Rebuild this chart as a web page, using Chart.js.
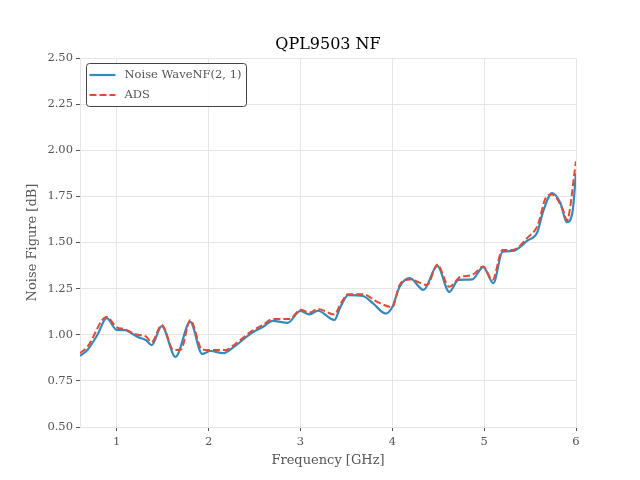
<!DOCTYPE html>
<html>
<head>
<meta charset="utf-8">
<script src="https://cdn.jsdelivr.net/npm/chart.js@4/dist/chart.umd.min.js"></script>
<style>
  html, body { margin: 0; padding: 0; background: #fff; }
  #wrap { width: 640px; height: 480px; }
</style>
</head>
<body>
<div id="wrap"><canvas id="nfChart" width="640" height="480"></canvas></div>
<script>
// values
const waveFreq = [0.60, 0.68, 0.79, 0.89, 1.00, 1.09, 1.17, 1.23, 1.32, 1.38, 1.49, 1.64, 1.80, 1.93, 2.02,
    2.16, 2.29, 2.47, 2.59, 2.70, 2.86, 3.00, 3.10, 3.19, 3.37, 3.43, 3.52, 3.68, 3.79, 3.93, 4.00,
    4.08, 4.19, 4.34, 4.49, 4.62, 4.72, 4.87, 4.99, 5.10, 5.20, 5.31, 5.47, 5.58, 5.64, 5.74, 5.83,
    5.90, 5.96, 6.00];
const waveNF = [0.885, 0.917, 1.00, 1.09, 1.026, 1.025, 1.005, 0.988, 0.97, 0.944, 1.047, 0.88, 1.07, 0.896, 0.912,
    0.90, 0.94, 1.01, 1.042, 1.075, 1.064, 1.129, 1.11, 1.13, 1.08, 1.145, 1.215, 1.21, 1.17, 1.115, 1.15,
    1.26, 1.307, 1.243, 1.373, 1.232, 1.297, 1.30, 1.367, 1.28, 1.45, 1.454, 1.51, 1.557, 1.665, 1.768, 1.714,
    1.61, 1.66, 1.876];

const adsFreq = [0.60, 0.68, 0.89, 1.00, 1.09, 1.17, 1.23, 1.32, 1.38, 1.49, 1.62, 1.70, 1.80, 1.93, 2.02,
    2.18, 2.29, 2.47, 2.59, 2.70, 2.88, 3.00, 3.10, 3.19, 3.37, 3.44, 3.52, 3.68, 3.83, 4.00, 4.08,
    4.19, 4.38, 4.49, 4.62, 4.74, 4.87, 4.99, 5.09, 5.20, 5.31, 5.47, 5.58, 5.68, 5.74, 5.86, 5.90, 6.00];
const adsNF = [0.90, 0.934, 1.096, 1.04, 1.03, 1.01, 1.00, 0.99, 0.96, 1.053, 0.917, 0.92, 1.08, 0.92, 0.917,
    0.917, 0.95, 1.02, 1.053, 1.085, 1.085, 1.135, 1.12, 1.14, 1.11, 1.17, 1.22, 1.22, 1.18, 1.15, 1.27,
    1.30, 1.27, 1.38, 1.26, 1.313, 1.324, 1.37, 1.297, 1.46, 1.46, 1.525, 1.59, 1.75, 1.76, 1.675, 1.62, 1.94];

const xTicks = [1, 2, 3, 4, 5, 6];
const yTicks = [0.50, 0.75, 1.00, 1.25, 1.50, 1.75, 2.00, 2.25, 2.50];

const seriesNames = ['Noise WaveNF(2, 1)', 'ADS'];
const chartTitle = 'QPL9503 NF';

const blue = '#348ABD';
const red = '#E24A33';
const font = 'DejaVu Serif';

function toPoints(xs, ys) {
    return xs.map((x, i) => ({ x: x, y: ys[i] }));
}

// title + boxed legend inside the plot, like the matplotlib original
const overlay = {
    id: 'overlay',
    afterDraw(chart) {
        const ctx = chart.ctx;
        const area = chart.chartArea;
        ctx.save();
        ctx.fillStyle = '#000';
        ctx.font = '16px "' + font + '"';
        ctx.textAlign = 'center';
        ctx.textBaseline = 'middle';
        ctx.fillText(chartTitle, (area.left + area.right) / 2, 45);

        const bx = 86.5, by = 63.5, bw = 160, bh = 43;
        ctx.beginPath();
        ctx.roundRect(bx, by, bw, bh, 3);
        ctx.fillStyle = 'rgba(255,255,255,0.9)';
        ctx.fill();
        ctx.strokeStyle = '#444';
        ctx.lineWidth = 1;
        ctx.stroke();

        ctx.font = '11.5px "' + font + '"';
        ctx.textAlign = 'left';
        ctx.fillStyle = '#555';
        chart.data.datasets.forEach((ds, i) => {
            const y = by + 11.5 + i * 20;
            ctx.beginPath();
            ctx.setLineDash(ds.borderDash || []);
            ctx.strokeStyle = ds.borderColor;
            ctx.lineWidth = ds.borderWidth;
            ctx.moveTo(bx + 3, y);
            ctx.lineTo(bx + 29, y);
            ctx.stroke();
            ctx.setLineDash([]);
            ctx.fillText(ds.label, bx + 38, y);
        });
        ctx.restore();
    }
};

const config = {
    type: 'line',
    data: {
        datasets: [{
            label: seriesNames[0],
            data: toPoints(waveFreq, waveNF),
            borderColor: blue,
            backgroundColor: blue,
            borderWidth: 2.2,
            order: 2
        }, {
            label: seriesNames[1],
            data: toPoints(adsFreq, adsNF),
            borderColor: red,
            backgroundColor: red,
            borderWidth: 2,
            borderDash: [7, 3],
            order: 1
        }]
    },
    options: {
        responsive: false,
        animation: false,
        layout: { padding: { top: 58, right: 64, left: 0, bottom: 0 } },
        elements: {
            point: { radius: 0 },
            line: { cubicInterpolationMode: 'monotone' }
        },
        plugins: {
            legend: { display: false },
            title: { display: false },
            tooltip: { enabled: false }
        },
        scales: {
            x: {
                type: 'linear',
                min: 0.6,
                max: 6,
                afterBuildTicks: (scale) => { scale.ticks = xTicks.map(v => ({ value: v })); },
                afterFit: (scale) => { scale.height = 53; },
                grid: { color: '#e5e5e5', tickColor: '#555', tickLength: 4 },
                border: { color: '#e5e5e5' },
                ticks: {
                    color: '#555',
                    padding: 4,
                    maxRotation: 0,
                    font: { family: font, size: 11.5 },
                    callback: (v) => String(v)
                },
                title: {
                    display: true,
                    text: 'Frequency [GHz]',
                    color: '#555',
                    font: { family: font, size: 13 },
                    padding: { top: 0, bottom: 12 }
                }
            },
            y: {
                min: 0.5,
                max: 2.5,
                afterBuildTicks: (scale) => { scale.ticks = yTicks.map(v => ({ value: v })); },
                afterFit: (scale) => { scale.width = 80; },
                grid: { color: '#e5e5e5', tickColor: '#555', tickLength: 4 },
                border: { color: '#e5e5e5' },
                ticks: {
                    color: '#555',
                    padding: 3,
                    font: { family: font, size: 11.5 },
                    callback: (v) => Number(v).toFixed(2)
                },
                title: {
                    display: true,
                    text: 'Noise Figure [dB]',
                    color: '#555',
                    font: { family: font, size: 13 },
                    padding: { top: 25, bottom: 0 }
                }
            }
        }
    },
    plugins: [overlay]
};

new Chart(document.getElementById('nfChart'), config);
</script>
</body>
</html>
